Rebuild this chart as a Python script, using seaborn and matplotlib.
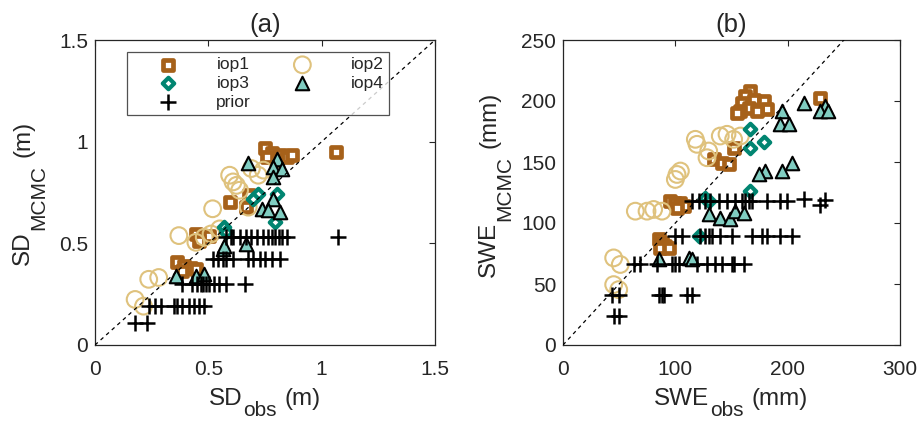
import numpy as np
import pandas as pd
import matplotlib
matplotlib.use("Agg")
import matplotlib.pyplot as plt
from matplotlib.markers import MarkerStyle
from matplotlib.transforms import IdentityTransform
import seaborn as sns

# ---------------- data: panel (a) SD (m) ----------------
a_iop1_x = [1.065, 0.75, 0.78, 0.817, 0.847, 0.869, 0.802, 0.757, 0.597, 0.68, 0.668,
            0.445, 0.475, 0.504, 0.46, 0.363, 0.393, 0.423, 0.445, 0.385]
a_iop1_y = [0.947, 0.967, 0.942, 0.934, 0.926, 0.934, 0.909, 0.926, 0.703, 0.736, 0.678,
            0.546, 0.53, 0.538, 0.513, 0.406, 0.389, 0.381, 0.373, 0.365]
a_iop2_x = [0.37, 0.445, 0.482, 0.512, 0.55, 0.519, 0.594, 0.609, 0.624, 0.638, 0.69,
            0.72, 0.743, 0.676, 0.237, 0.281, 0.177, 0.214]
a_iop2_y = [0.538, 0.505, 0.53, 0.546, 0.571, 0.67, 0.835, 0.802, 0.785, 0.761, 0.868,
            0.835, 0.86, 0.678, 0.323, 0.332, 0.224, 0.191]
a_iop3_x = [0.72, 0.698, 0.802, 0.795, 0.571, 0.579]
a_iop3_y = [0.744, 0.719, 0.744, 0.604, 0.579, 0.554]
a_iop4_x = [0.676, 0.802, 0.787, 0.824, 0.787, 0.784, 0.735, 0.765, 0.817, 0.668, 0.564,
            0.571, 0.356, 0.445, 0.482]
a_iop4_y = [0.893, 0.917, 0.876, 0.868, 0.827, 0.719, 0.67, 0.662, 0.653, 0.497, 0.472,
            0.488, 0.34, 0.34, 0.348]
a_prior_x = [0.579, 0.601, 0.609, 0.638, 0.668, 0.69, 0.713, 0.743, 0.765, 0.78, 0.795, 0.81, 0.824, 0.847, 1.07,
             0.519, 0.542, 0.564, 0.579, 0.609, 0.676, 0.698, 0.728, 0.75, 0.78, 0.817,
             0.385, 0.43, 0.452, 0.467, 0.475, 0.49, 0.504, 0.527, 0.549, 0.579, 0.661,
             0.237, 0.266, 0.289, 0.348, 0.363, 0.385, 0.414, 0.437, 0.46, 0.482,
             0.177, 0.229]
a_prior_y = [0.53] * 15 + [0.422] * 11 + [0.299] * 11 + [0.191] * 10 + [0.109] * 2

# ---------------- data: panel (b) SWE (mm) ----------------
b_iop1_x = [166.8, 162.3, 169.7, 159.3, 165.3, 157.9, 154.9, 178.6, 181.6, 172.7, 229, 151.9,
            134.1, 141.5, 147.5, 95.5, 100, 104.5, 107.4, 101.5, 85.2, 88.1, 91.1, 86.6, 94]
b_iop1_y = [208.3, 204, 201, 198.7, 194.6, 191.8, 190.5, 200, 193.2, 191.8, 202.8, 161.7,
            152.2, 149.4, 148, 118, 116.6, 116.6, 113.8, 112.5, 86.5, 83.7, 81, 79.6, 79.6]
b_iop2_x = [64.4, 74.8, 80.7, 88.1, 45.1, 51, 45.1, 49.6, 101.5, 104.5, 100, 117.8, 119.3,
            129.7, 128.2, 140, 146, 151.9, 157.9]
b_iop2_y = [109.7, 109.7, 111.1, 109.7, 71.4, 66, 49.5, 45.4, 139.8, 142.6, 135.7, 168.6, 164.5,
            159, 153.5, 171.3, 172.7, 168.6, 171.3]
b_iop3_x = [166.8, 166.8, 179.2, 166.8, 126.7, 129.7, 120.8]
b_iop3_y = [176.8, 161.7, 166.4, 126.2, 120.7, 118, 89.2]
b_iop4_x = [214.2, 233.5, 229, 235.6, 195, 193.5, 200.9, 203.9, 195, 180.1, 174.2, 129.7, 140,
            148.9, 153.4, 160.8, 85.2, 111.9, 114.8]
b_iop4_y = [198.7, 196, 191.8, 191.8, 191.8, 180.9, 180.9, 149.4, 142.6, 142.6, 139.8, 107, 104.3,
            102.9, 109.7, 108.4, 70.1, 71.4, 70.1]
b_prior_x = [114.8, 120.8, 126.7, 131.2, 138.6, 146, 153.4, 159.3, 162.3, 165.3, 168.2, 181.6, 193.5, 199.4,
             214.2, 229, 233.5,
             100, 106, 122.3, 126.7, 129.7, 132.6, 140, 150.4, 168.2, 177.2, 181.6, 193.5, 203.9,
             62.9, 68.8, 83.7, 97, 100, 103, 119.3, 128.2, 135.6, 141.5, 150.4, 151.9, 160.8,
             43.6, 49.6, 85.2, 88.1, 89.6, 110.4, 114.8,
             45.1, 49.6]
b_prior_y = [118] * 14 + [120, 115, 119] + [89.2] * 13 + [66] * 13 + [41.3] * 7 + [23.5] * 2

series_names = ["iop1", "iop2", "iop3", "iop4", "prior"]
panel_titles = ["(a)", "(b)"]
# label pieces: (main text, subscript, unit)
x_label_parts = [("SD", "obs", "(m)"), ("SWE", "obs", "(mm)")]
y_label_parts = [("SD", "MCMC", "(m)"), ("SWE", "MCMC", "(mm)")]

# ---------------- style ----------------
sns.set_style("white")
plt.rcParams["font.family"] = ["Liberation Sans", "DejaVu Sans"]
dark = "#262626"

C_IOP1 = "#a6611a"
C_IOP2 = "#dfc27d"
C_IOP3 = "#018571"
C_IOP4 = "#80cdc1"

styles = {
    "iop1": dict(marker=MarkerStyle("s", joinstyle="round"), s=45, facecolor="white",
                 edgecolor=C_IOP1, linewidth=3.4),
    "iop2": dict(marker="o", s=145, facecolor="none", edgecolor=C_IOP2, linewidth=1.5),
    "iop3": dict(marker=MarkerStyle("D", joinstyle="round"), s=34, facecolor="white",
                 edgecolor=C_IOP3, linewidth=3.0),
    "iop4": dict(marker="^", s=95, facecolor=C_IOP4, edgecolor="black", linewidth=1.5),
    "prior": dict(marker="+", s=135, color="black", linewidth=1.8),
}

W, H = 923, 422
fig = plt.figure(figsize=(W / 100, H / 100), dpi=100)
fig.patch.set_facecolor("white")
AX_TOP, AX_BOT = 40, 345
ax_a = fig.add_axes([95 / W, 1 - AX_BOT / H, 340 / W, (AX_BOT - AX_TOP) / H])
ax_b = fig.add_axes([563 / W, 1 - AX_BOT / H, 337 / W, (AX_BOT - AX_TOP) / H])

panels = [
    (ax_a, {"iop1": (a_iop1_x, a_iop1_y), "iop2": (a_iop2_x, a_iop2_y), "iop3": (a_iop3_x, a_iop3_y),
            "iop4": (a_iop4_x, a_iop4_y), "prior": (a_prior_x, a_prior_y)},
     (0, 1.5), [0, 0.5, 1, 1.5], ["0", "0.5", "1", "1.5"], (0, 1.5), [0, 0.5, 1, 1.5], ["0", "0.5", "1", "1.5"]),
    (ax_b, {"iop1": (b_iop1_x, b_iop1_y), "iop2": (b_iop2_x, b_iop2_y), "iop3": (b_iop3_x, b_iop3_y),
            "iop4": (b_iop4_x, b_iop4_y), "prior": (b_prior_x, b_prior_y)},
     (0, 300), [0, 100, 200, 300], ["0", "100", "200", "300"], (0, 250), [0, 50, 100, 150, 200, 250],
     ["0", "50", "100", "150", "200", "250"]),
]

for i, (ax, data, xlim, xt, xtl, ylim, yt, ytl) in enumerate(panels):
    for name in series_names:
        xs, ys = data[name]
        df = pd.DataFrame({"x": xs, "y": ys})
        sns.scatterplot(data=df, x="x", y="y", ax=ax, label=name, legend=False,
                        zorder=3, **styles[name])
    lim = max(xlim[1], ylim[1])
    ax.plot([0, lim], [0, lim], linestyle=(0, (3, 3)), color="black", linewidth=0.9, zorder=4)
    ax.set_xlim(*xlim)
    ax.set_ylim(*ylim)
    ax.set_xticks(xt)
    ax.set_xticklabels(xtl)
    ax.set_yticks(yt)
    ax.set_yticklabels(ytl)
    ax.tick_params(direction="in", length=4, width=0.8, top=True, right=True,
                   labelsize=15, colors=dark)
    ax.tick_params(axis="x", pad=11)
    ax.tick_params(axis="y", pad=5)
    for sp in ax.spines.values():
        sp.set_color(dark)
        sp.set_linewidth(0.9)
    ax.set_xlabel("")
    ax.set_ylabel("")
    ax.set_title(panel_titles[i], fontsize=18.5, color=dark, pad=6)

# legend in panel (a): two columns, row-major order like MATLAB
handles, labels = ax_a.get_legend_handles_labels()
hmap = dict(zip(labels, handles))
order = ["iop1", "iop3", "prior", "iop2", "iop4"]
leg = ax_a.legend([hmap[k] for k in order], order, ncol=2, loc="upper left",
                  bbox_to_anchor=((127 - 95) / 340, (AX_BOT - 52) / (AX_BOT - AX_TOP)),
                  fontsize=12.5, frameon=True, fancybox=False, edgecolor=dark,
                  handlelength=4.1, handletextpad=0.75, columnspacing=0.9,
                  labelspacing=0.2, borderpad=0.3, borderaxespad=0, scatterpoints=1)
leg.get_frame().set_linewidth(0.9)
for t in leg.get_texts():
    t.set_color(dark)

# ---------------- MATLAB-like axis labels with large, lowered subscripts ----------------
fig.canvas.draw()
renderer = fig.canvas.get_renderer()
MAIN_FS, SUB_FS = 17.5, 15
GAP1, GAP2 = 1, 8


def place_label(parts, center, baseline, vertical, drop):
    main, sub, unit = parts
    specs = [(main, MAIN_FS, 0, 0), (sub, SUB_FS, drop, GAP1), (unit, MAIN_FS, 0, GAP2)]
    texts, sizes = [], []
    for s, fs, d, gap in specs:
        t = fig.text(0, 0, s, fontsize=fs, color=dark, transform=IdentityTransform(),
                     ha="left", va="baseline", rotation=90 if vertical else 0,
                     rotation_mode="anchor")
        bb = t.get_window_extent(renderer)
        texts.append(t)
        sizes.append(bb.height if vertical else bb.width)
    total = sum(sizes) + GAP1 + GAP2
    pos = center - total / 2
    for t, (s, fs, d, gap), size in zip(texts, specs, sizes):
        pos += gap
        if vertical:
            t.set_position((baseline + d, pos))
        else:
            t.set_position((pos, baseline - d))
        pos += size


# x labels: centred under each axes (subscript kept inside the figure)
place_label(x_label_parts[0], 265, H - 405, vertical=False, drop=11)
place_label(x_label_parts[1], 731, H - 405, vertical=False, drop=11)
# y labels: main baseline at x px
place_label(y_label_parts[0], H - 193, 29, vertical=True, drop=15)
place_label(y_label_parts[1], H - 184, 495, vertical=True, drop=15)

fig.savefig("out.png", dpi=100, facecolor="white")
